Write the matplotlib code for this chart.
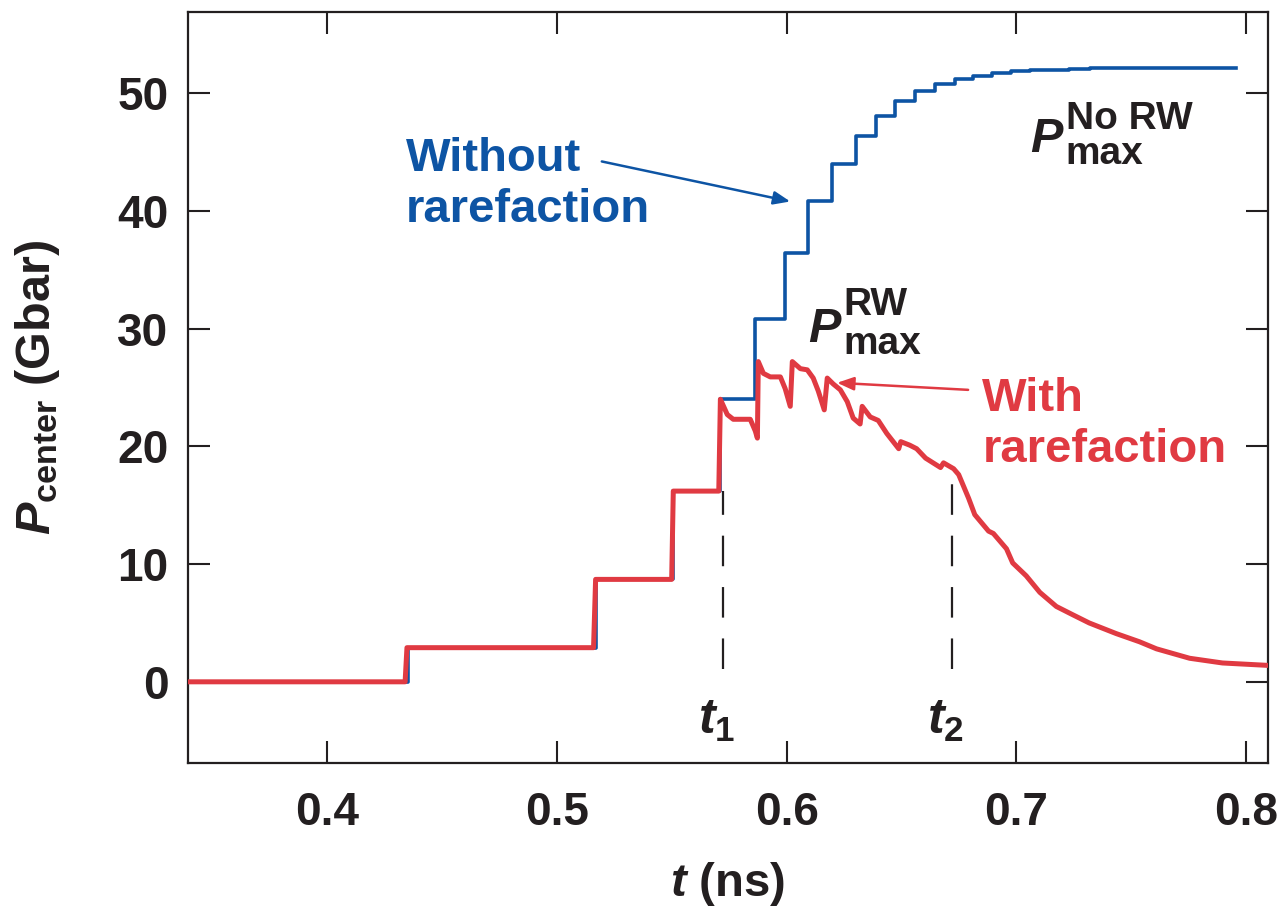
import numpy as np
import matplotlib
matplotlib.use("Agg")
import matplotlib.pyplot as plt

plt.rcParams['font.family'] = ['Liberation Sans', 'DejaVu Sans']
plt.rcParams['font.weight'] = 'bold'
plt.rcParams['mathtext.fontset'] = 'custom'
plt.rcParams['mathtext.rm'] = 'Liberation Sans:bold'
plt.rcParams['mathtext.bf'] = 'Liberation Sans:bold'
plt.rcParams['mathtext.it'] = 'Liberation Sans:italic:bold'
plt.rcParams['lines.scale_dashes'] = False

BLUE = '#0d54a4'
RED = '#e03a42'
INK = '#231f20'

# step profile without rarefaction: time where each level starts, and the level
t_norw = [0.340, 0.4352, 0.5169, 0.5507, 0.5712, 0.5864, 0.5994, 0.6094,
          0.6198, 0.6302, 0.6389, 0.6472, 0.6559, 0.6646, 0.6732, 0.6811,
          0.6893, 0.6976, 0.7060, 0.7145, 0.7230, 0.7320, 0.7957]
p_norw = [0.0, 2.9, 8.7, 16.2, 24.0, 30.8, 36.4, 40.8,
          44.0, 46.4, 48.1, 49.3, 50.2, 50.8, 51.2, 51.5,
          51.7, 51.85, 51.95, 52.0, 52.05, 52.1, 52.1]

# center pressure with rarefaction
t_rw = [0.340, 0.4340, 0.4348, 0.5160, 0.5169, 0.5500, 0.5507, 0.5705,
        0.5712, 0.5742, 0.5768, 0.5842, 0.5864, 0.5873, 0.5877, 0.5899,
        0.5929, 0.5973, 0.5994, 0.6016, 0.6025, 0.6060, 0.6090, 0.6116,
        0.6138, 0.6164, 0.6177, 0.6203, 0.6234, 0.6264, 0.6290, 0.6320,
        0.6329, 0.6364, 0.6399, 0.6436, 0.6488, 0.6497, 0.6536, 0.6566,
        0.6605, 0.6670, 0.6683, 0.6727, 0.6749, 0.6792, 0.6819, 0.6879,
        0.6900, 0.6957, 0.6984, 0.7043, 0.7102, 0.7174, 0.7245, 0.7317,
        0.7434, 0.7536, 0.7610, 0.7754, 0.7897, 0.8090]
p_rw = [0.0, 0.0, 2.9, 2.9, 8.7, 8.7, 16.2, 16.2,
        24.0, 22.7, 22.3, 22.3, 21.3, 20.7, 27.2, 26.2,
        25.9, 25.9, 24.9, 23.4, 27.2, 26.6, 26.5, 25.8,
        24.7, 23.1, 25.8, 25.3, 24.8, 23.8, 22.4, 21.9,
        23.4, 22.5, 22.2, 21.1, 19.8, 20.4, 20.1, 19.8,
        19.0, 18.2, 18.6, 18.1, 17.6, 15.6, 14.2, 12.8,
        12.6, 11.3, 10.1, 9.0, 7.6, 6.4, 5.7, 5.0,
        4.1, 3.4, 2.8, 2.0, 1.6, 1.4]

t1, t2 = 0.5725, 0.6720
dash_top = [16.2, 18.0]
dash_bottom = 1.1
xticks = [0.4, 0.5, 0.6, 0.7, 0.8]
yticks = [0, 10, 20, 30, 40, 50]

fig = plt.figure(figsize=(12.83, 9.19), dpi=100)
ax = fig.add_axes([0.1465, 0.1697, 0.9883 - 0.1465, 0.987 - 0.1697])

ax.step(t_norw, p_norw, where='post', color=BLUE, lw=2.6, zorder=3)
ax.plot(t_rw, p_rw, color=RED, lw=3.6, zorder=4, solid_joinstyle='round')

for tt, top in zip((t1, t2), dash_top):
    ax.plot([tt, tt], [dash_bottom, top], color=INK, lw=1.6,
            dashes=(22, 15), zorder=2)

ax.set_xlim(0.3395, 0.8095)
ax.set_ylim(-6.9, 56.9)
ax.set_xticks(xticks)
ax.set_xticklabels([f"{v:.1f}" for v in xticks])
ax.set_yticks(yticks)
ax.tick_params(direction='in', length=16, width=1.5, top=True, right=True,
               labelsize=33, colors=INK)
ax.tick_params(axis='x', pad=20)
ax.tick_params(axis='y', pad=14)
for s in ax.spines.values():
    s.set_linewidth(1.6)
    s.set_color(INK)

ax.set_xlabel(r'$t$ (ns)', fontsize=34, color=INK, fontweight='bold',
              labelpad=18)
ax.set_ylabel(r'$P_{\mathrm{center}}$ (Gbar)', fontsize=35, color=INK,
              fontweight='bold', labelpad=40)

ax.text(0.4343, 39.1, 'Without\nrarefaction', color=BLUE, fontsize=34,
        ha='left', va='baseline', linespacing=1.2)
ax.annotate('', xy=(0.6016, 40.8), xytext=(0.5196, 44.2),
            arrowprops=dict(arrowstyle='-|>,head_length=1.0,head_width=0.4',
                            color=BLUE, lw=1.8, shrinkA=0, shrinkB=0))

ax.text(0.6852, 18.7, 'With\nrarefaction', color=RED, fontsize=34,
        ha='left', va='baseline', linespacing=1.2)
ax.annotate('', xy=(0.6220, 25.4), xytext=(0.6790, 24.8),
            arrowprops=dict(arrowstyle='-|>,head_length=1.0,head_width=0.4',
                            color=RED, lw=1.8, shrinkA=0, shrinkB=0))


def p_max(x, y, sup, dx, dy_sup):
    ax.text(x, y, 'P', color=INK, fontsize=35, style='italic',
            ha='left', va='baseline')
    ax.annotate(sup, (x, y), xytext=(dx, dy_sup), textcoords='offset points',
                color=INK, fontsize=28, ha='left', va='baseline')
    ax.annotate('max', (x, y), xytext=(dx, -8.6), textcoords='offset points',
                color=INK, fontsize=28, ha='left', va='baseline')


p_max(0.7058, 45.0, 'No RW', 26, 16.5)
p_max(0.6094, 28.9, 'RW', 25, 19.0)

ax.text(t1 - 0.003, -3.3, r'$t_1$', color=INK, fontsize=36, ha='center', va='center')
ax.text(t2 - 0.003, -3.3, r'$t_2$', color=INK, fontsize=36, ha='center', va='center')

fig.savefig('out.png', dpi=100)
